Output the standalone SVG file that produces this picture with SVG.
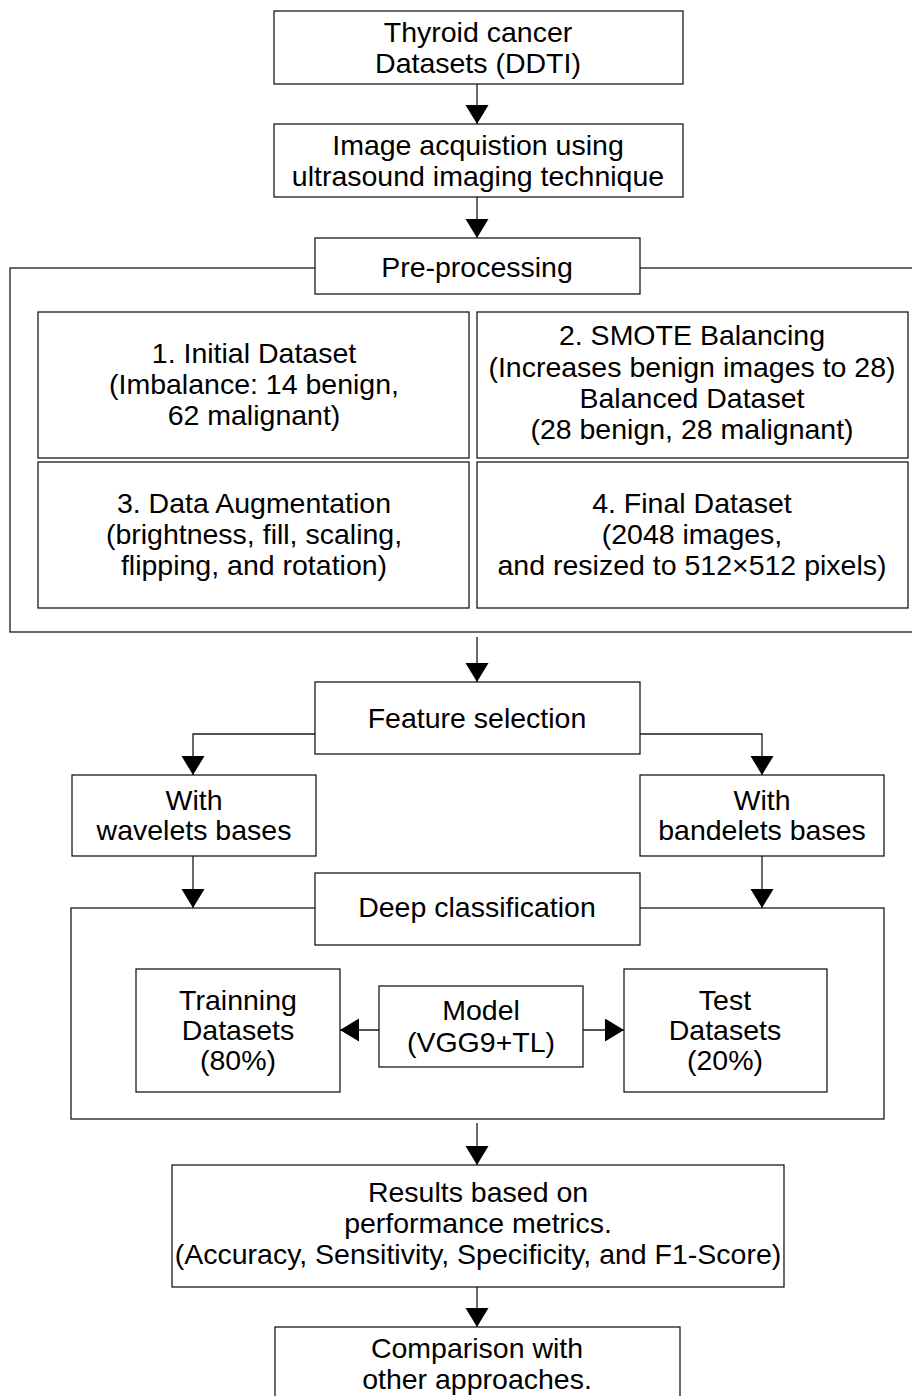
<svg xmlns="http://www.w3.org/2000/svg" width="912" height="1396" viewBox="0 0 912 1396">
  <style>
    .box { fill: #ffffff; stroke: #1a1a1a; stroke-width: 1.3; }
    .frame { fill: none; stroke: #1a1a1a; stroke-width: 1.3; }
    .link { fill: none; stroke: #1a1a1a; stroke-width: 1.3; }
    .arrow { marker-end: url(#head); }
    text { font-family: "Liberation Sans", Arial, sans-serif; font-size: 28.5px; fill: #000; text-anchor: middle; }
  </style>
  <defs>
    <marker id="head" markerUnits="userSpaceOnUse" markerWidth="20" markerHeight="24" refX="19" refY="11.5" orient="auto">
      <path d="M0,0 L19,11.5 L0,23 Z" fill="#000"/>
    </marker>
  </defs>

  <rect width="912" height="1396" fill="#ffffff"/>

  <!-- group frames -->
  <g id="frames">
    <rect class="frame" x="10" y="268" width="920" height="364"/>
    <rect class="frame" x="71" y="908" width="813" height="211"/>
  </g>

  <!-- connectors -->
  <g id="connectors">
    <line class="link arrow" x1="477" y1="84" x2="477" y2="124"/>
    <line class="link arrow" x1="477" y1="197" x2="477" y2="238"/>
    <line class="link arrow" x1="477" y1="637" x2="477" y2="682"/>
    <polyline class="link arrow" points="315,734 193,734 193,775"/>
    <polyline class="link arrow" points="640,734 762,734 762,775"/>
    <line class="link arrow" x1="193" y1="856" x2="193" y2="908"/>
    <line class="link arrow" x1="762" y1="856" x2="762" y2="908"/>
    <line class="link arrow" x1="379" y1="1030" x2="340" y2="1030"/>
    <line class="link arrow" x1="583" y1="1030" x2="624" y2="1030"/>
    <line class="link arrow" x1="477" y1="1123" x2="477" y2="1165"/>
    <line class="link arrow" x1="477" y1="1287" x2="477" y2="1327"/>
  </g>

  <g id="dataset">
    <rect class="box" x="274" y="11" width="409" height="73"/>
    <text x="478" y="42">Thyroid cancer</text>
    <text x="478" y="73">Datasets (DDTI)</text>
  </g>

  <g id="acquisition">
    <rect class="box" x="274" y="124" width="409" height="73"/>
    <text x="478" y="155">Image acquistion using</text>
    <text x="478" y="186">ultrasound imaging technique</text>
  </g>

  <g id="preprocessing">
    <rect class="box" x="315" y="238" width="325" height="56"/>
    <text x="477" y="277">Pre-processing</text>
  </g>

  <g id="initial-dataset">
    <rect class="box" x="38" y="312" width="431" height="146"/>
    <text x="254" y="363">1. Initial Dataset</text>
    <text x="254" y="394">(Imbalance: 14 benign,</text>
    <text x="254" y="425">62 malignant)</text>
  </g>

  <g id="smote">
    <rect class="box" x="477" y="312" width="431" height="146"/>
    <text x="692" y="345">2. SMOTE Balancing</text>
    <text x="692" y="377">(Increases benign images to 28)</text>
    <text x="692" y="408">Balanced Dataset</text>
    <text x="692" y="439">(28 benign, 28 malignant)</text>
  </g>

  <g id="augmentation">
    <rect class="box" x="38" y="462" width="431" height="146"/>
    <text x="254" y="513">3. Data Augmentation</text>
    <text x="254" y="544">(brightness, fill, scaling,</text>
    <text x="254" y="575">flipping, and rotation)</text>
  </g>

  <g id="final-dataset">
    <rect class="box" x="477" y="462" width="431" height="146"/>
    <text x="692" y="513">4. Final Dataset</text>
    <text x="692" y="544">(2048 images,</text>
    <text x="692" y="575">and resized to 512×512 pixels)</text>
  </g>

  <g id="feature-selection">
    <rect class="box" x="315" y="682" width="325" height="72"/>
    <text x="477" y="728">Feature selection</text>
  </g>

  <g id="wavelets">
    <rect class="box" x="72" y="775" width="244" height="81"/>
    <text x="194" y="810">With</text>
    <text x="194" y="840">wavelets bases</text>
  </g>

  <g id="bandelets">
    <rect class="box" x="640" y="775" width="244" height="81"/>
    <text x="762" y="810">With</text>
    <text x="762" y="840">bandelets bases</text>
  </g>

  <g id="deep-classification">
    <rect class="box" x="315" y="873" width="325" height="72"/>
    <text x="477" y="917">Deep classification</text>
  </g>

  <g id="training">
    <rect class="box" x="136" y="969" width="204" height="123"/>
    <text x="238" y="1010">Trainning</text>
    <text x="238" y="1040">Datasets</text>
    <text x="238" y="1070">(80%)</text>
  </g>

  <g id="model">
    <rect class="box" x="379" y="986" width="204" height="81"/>
    <text x="481" y="1020">Model</text>
    <text x="481" y="1052">(VGG9+TL)</text>
  </g>

  <g id="test">
    <rect class="box" x="624" y="969" width="203" height="123"/>
    <text x="725" y="1010">Test</text>
    <text x="725" y="1040">Datasets</text>
    <text x="725" y="1070">(20%)</text>
  </g>

  <g id="results">
    <rect class="box" x="172" y="1165" width="612" height="122"/>
    <text x="478" y="1202">Results based on</text>
    <text x="478" y="1233">performance metrics.</text>
    <text x="478" y="1264">(Accuracy, Sensitivity, Specificity, and F1-Score)</text>
  </g>

  <g id="comparison">
    <rect class="box" x="275" y="1327" width="405" height="90"/>
    <text x="477" y="1358">Comparison with</text>
    <text x="477" y="1389">other approaches.</text>
  </g>
</svg>
